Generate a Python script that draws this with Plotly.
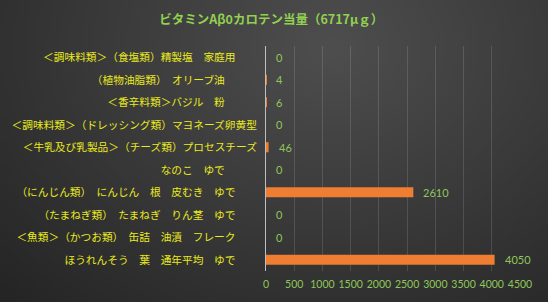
import base64, struct, zlib, math
import plotly.graph_objects as go

# ---- data ----
categories = [
    "＜調味料類＞（食塩類）精製塩　家庭用　　",
    "（植物油脂類）　オリーブ油　　　",
    "＜香辛料類＞バジル　粉　　　",
    "＜調味料類＞（ドレッシング類）マヨネーズ卵黄型",
    "＜牛乳及び乳製品＞（チーズ類）プロセスチーズ",
    "なのこ　ゆで　　　",
    "（にんじん類）　にんじん　根　皮むき　ゆで　　",
    "（たまねぎ類）　たまねぎ　りん茎　ゆで　　",
    "＜魚類＞（かつお類）　缶詰　油漬　フレーク　　",
    "ほうれんそう　葉　通年平均　ゆで　　",
]
values = [0, 4, 6, 0, 46, 0, 2610, 0, 0, 4050]
title_text = "ビタミンAβ0カロテン当量（6717μｇ）"
x_ticks = [0, 500, 1000, 1500, 2000, 2500, 3000, 3500, 4000, 4500]

# ---- background gradient image ----
W, H = 548, 302
def make_png(w, h):
    rows = []
    cx, cy = 0.6 * w, 0.15 * h
    maxd = math.hypot(w, h) * 0.75
    for j in range(h):
        row = bytearray([0])
        for i in range(w):
            d = math.hypot((i - cx), (j - cy) * 1.3) / maxd
            d = min(d, 1.0)
            v = int(round(78 - (78 - 36) * d))
            row += bytes([v, v, v])
        rows.append(bytes(row))
    raw = b"".join(rows)
    def chunk(t, data):
        c = struct.pack(">I", len(data)) + t + data
        return c + struct.pack(">I", zlib.crc32(t + data) & 0xffffffff)
    png = b"\x89PNG\r\n\x1a\n"
    png += chunk(b"IHDR", struct.pack(">IIBBBBB", w, h, 8, 2, 0, 0, 0))
    png += chunk(b"IDAT", zlib.compress(raw, 9))
    png += chunk(b"IEND", b"")
    return "data:image/png;base64," + base64.b64encode(png).decode()

bg = make_png(137, 76)

L, R, T, B = 266, 28, 46, 31
pw, ph = W - L - R, H - T - B

fig = go.Figure()
fig.add_trace(go.Bar(
    x=values, y=categories, orientation="h",
    marker=dict(color="#ef7d32", line=dict(width=0)),
    hoverinfo="x+y",
))

for v, c in zip(values, categories):
    fig.add_annotation(x=v, y=c, text=str(v), showarrow=False,
                       xanchor="left", xshift=8, yshift=0,
                       font=dict(family="Lato", size=11, color="#8fc75a"))

fig.add_layout_image(dict(
    source=bg, xref="paper", yref="paper",
    x=-L / pw, y=1 + T / ph, sizex=W / pw, sizey=H / ph,
    xanchor="left", yanchor="top", sizing="stretch", layer="below",
))

fig.update_layout(
    width=W, height=H,
    margin=dict(l=L, r=R, t=T, b=B, pad=0),
    paper_bgcolor="#3a3a3a",
    plot_bgcolor="rgba(0,0,0,0)",
    bargap=0.55,
    showlegend=False,
    title=dict(text="<b>" + title_text + "</b>", x=0.495, xanchor="center",
               y=1 - 20 / H, yanchor="middle",
               font=dict(family="Noto Sans CJK JP", size=12.5, color="#92d050")),
    xaxis=dict(range=[0, 4500], tickvals=x_ticks, ticktext=[str(t) for t in x_ticks],
               showgrid=True, gridcolor="rgba(255,255,255,0.13)", gridwidth=1,
               zeroline=False, showline=False, ticks="",
               ticklabelstandoff=5,
               tickfont=dict(family="Lato", size=10.5, color="#8fc75a")),
    yaxis=dict(type="category", categoryorder="array", categoryarray=categories,
               autorange="reversed", showgrid=False, zeroline=False,
               showline=True, linecolor="#bfbfbf", linewidth=1, ticks="",
               ticklabelstandoff=6,
               tickfont=dict(family="Noto Sans CJK JP", size=10.7, color="#eaea1e")),
)

fig.write_html("out.html")
